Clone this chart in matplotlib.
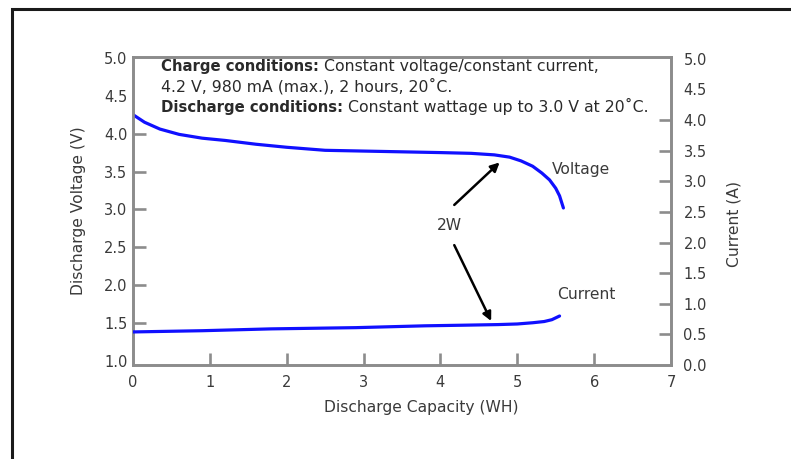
import matplotlib
matplotlib.use("Agg")
import matplotlib.pyplot as plt
from matplotlib.patches import Rectangle

plt.rcParams["font.family"] = ["DejaVu Sans"]

# Discharge capacity (WH) vs. discharge voltage (V)
cap_v = [0, 0.15, 0.35, 0.6, 0.9, 1.2, 1.6, 2.0, 2.5, 3.0, 3.5, 4.0, 4.4,
         4.7, 4.9, 5.05, 5.2, 5.32, 5.42, 5.5, 5.55, 5.6]
volt = [4.25, 4.15, 4.06, 3.99, 3.94, 3.91, 3.86, 3.82, 3.78, 3.77, 3.76,
        3.75, 3.74, 3.72, 3.69, 3.64, 3.57, 3.48, 3.39, 3.28, 3.18, 3.02]

# Discharge capacity (WH) vs. current (A)
cap_i = [0, 0.9, 1.8, 2.9, 3.8, 4.3, 4.75, 5.0, 5.2, 5.35, 5.45, 5.55]
curr = [0.54, 0.56, 0.59, 0.61, 0.64, 0.65, 0.66, 0.67, 0.69, 0.71, 0.74, 0.80]

x_ticks = [0, 1, 2, 3, 4, 5, 6, 7]
v_ticks = [1.0, 1.5, 2.0, 2.5, 3.0, 3.5, 4.0, 4.5, 5.0]
i_ticks = [0.0, 0.5, 1.0, 1.5, 2.0, 2.5, 3.0, 3.5, 4.0, 4.5, 5.0]

W, H, DPI = 791, 459, 100
fig = plt.figure(figsize=(W / DPI, H / DPI), dpi=DPI)
fig.patch.set_facecolor("white")

# page frame (open on the right and bottom)
fig.patches.append(Rectangle((12 / W, -0.1), 1.2, 1 - 9 / H + 0.1,
                             transform=fig.transFigure, fill=False,
                             edgecolor="#1a1a1a", linewidth=2.2, zorder=0))

L, R, T, B = 133, 671, 57, 365
ax = fig.add_axes([L / W, 1 - B / H, (R - L) / W, (B - T) / H])
ax2 = ax.twinx()

spine_c = "#8c8c8c"
text_c = "#3a3a3a"
blue = "#1010ff"
tick_fs = 10.5
label_fs = 11.2

ax.plot(cap_v, volt, color=blue, lw=2.3, solid_capstyle="round", zorder=3)
ax2.plot(cap_i, curr, color=blue, lw=2.3, solid_capstyle="round", zorder=3)

ax.set_xlim(0, 7.0)
ax.set_ylim(0.95, 5.01)
ax2.set_ylim(0.0, 5.03)

ax.set_xticks(x_ticks)
ax.set_xticklabels([str(t) for t in x_ticks])
ax.set_yticks(v_ticks)
ax.set_yticklabels([f"{t:.1f}" for t in v_ticks])
ax2.set_yticks(i_ticks)
ax2.set_yticklabels([f"{t:.1f}" for t in i_ticks])

for a in (ax, ax2):
    for s in a.spines.values():
        s.set_color(spine_c)
        s.set_linewidth(1.9)

ax.tick_params(axis="x", direction="in", length=9, width=1.9, color=spine_c,
               labelsize=tick_fs, labelcolor=text_c, pad=7)
ax.tick_params(axis="y", direction="in", length=9, width=1.9, color=spine_c,
               labelsize=tick_fs, labelcolor=text_c, pad=4)
ax2.tick_params(axis="y", direction="in", length=9, width=1.9, color=spine_c,
                labelsize=tick_fs, labelcolor=text_c, pad=9)

# hide tick marks at the corners and under the condition notes
for t, v in zip(ax.xaxis.get_major_ticks(), x_ticks):
    if v in (0, 7):
        t.tick1line.set_visible(False)
for t, v in zip(ax.yaxis.get_major_ticks(), v_ticks):
    if v in (1.0, 4.5, 5.0):
        t.tick1line.set_visible(False)
for t, v in zip(ax2.yaxis.get_major_ticks(), i_ticks):
    if v in (0.0, 4.5, 5.0):
        t.tick2line.set_visible(False)

ax.set_xlabel("Discharge Capacity (WH)", fontsize=label_fs, color=text_c)
ax.set_ylabel("Discharge Voltage (V)", fontsize=label_fs, color=text_c)
ax2.set_ylabel("Current (A)", fontsize=label_fs, color=text_c)
ax.xaxis.set_label_coords(0.535, -0.115)
ax.yaxis.set_label_coords(-0.087, 0.50)
ax2.yaxis.set_label_coords(1.104, 0.458)

# test conditions: bold lead-in, then regular text on the same baseline
x0 = (161 - L) / (R - L)
lines = [
    ("Charge conditions:", " Constant voltage/constant current,", 71),
    ("", "4.2 V, 980 mA (max.), 2 hours, 20˚C.", 91),
    ("Discharge conditions:", " Constant wattage up to 3.0 V at 20˚C.", 112),
]
fig.canvas.draw()
renderer = fig.canvas.get_renderer()
for bold, regular, py in lines:
    y = (B - py) / (B - T)
    x_reg = x0
    if bold:
        tb = ax2.text(x0, y, bold, transform=ax2.transAxes, fontsize=10.7,
                      fontweight="bold", color="#2a2a2a", va="baseline",
                      ha="left", zorder=5)
        bb = tb.get_window_extent(renderer)
        x_reg = ax2.transAxes.inverted().transform((bb.x1, bb.y0))[0]
    ax2.text(x_reg, y, regular, transform=ax2.transAxes, fontsize=11.3,
             color="#2a2a2a", va="baseline", ha="left", zorder=5)

# curve labels and the 2W arrows
arrow = dict(arrowstyle="-|>", color="black", lw=1.8, mutation_scale=13,
             shrinkA=0, shrinkB=0)
ax.text(5.45, 3.53, "Voltage", fontsize=label_fs, color=text_c, ha="left", va="center")
ax.text(5.52, 1.88, "Current", fontsize=label_fs, color=text_c, ha="left", va="center")
ax.text(4.12, 2.79, "2W", fontsize=label_fs, color=text_c, ha="center", va="center")
ax.annotate("", xy=(4.77, 3.62), xytext=(4.18, 3.06), arrowprops=arrow)
ax.annotate("", xy=(4.66, 1.53), xytext=(4.18, 2.53), arrowprops=arrow)

fig.savefig("out.png", dpi=DPI, facecolor="white")
